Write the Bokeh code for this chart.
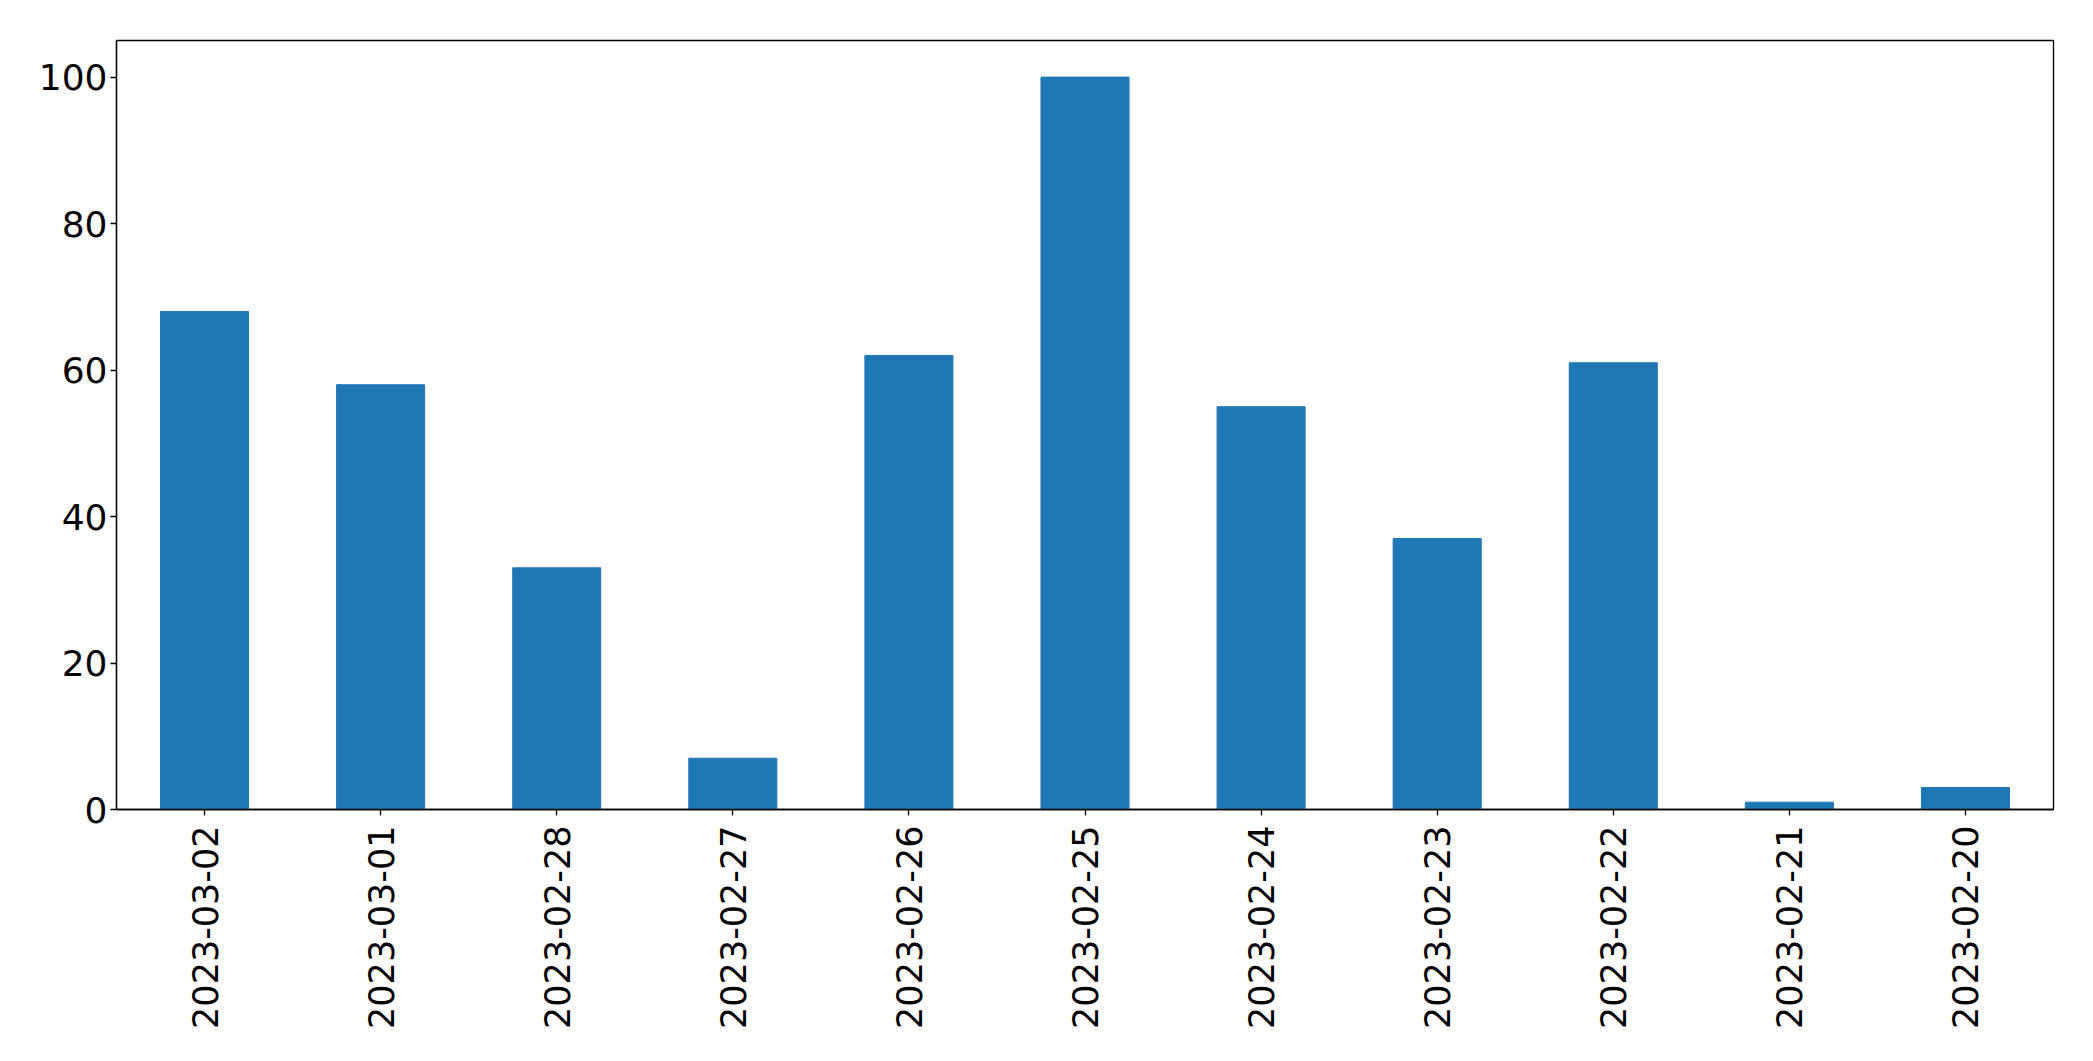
from bokeh.plotting import figure
from bokeh.models import FixedTicker, Range1d
from bokeh.embed import file_html
from bokeh.resources import INLINE
import math

dates = ["2023-03-02", "2023-03-01", "2023-02-28", "2023-02-27", "2023-02-26",
         "2023-02-25", "2023-02-24", "2023-02-23", "2023-02-22", "2023-02-21", "2023-02-20"]
counts = [68, 58, 33, 7, 62, 100, 55, 37, 61, 1, 3]
y_ticks = [0, 20, 40, 60, 80, 100]

p = figure(x_range=dates, y_range=Range1d(0, 105), width=2077, height=1045,
           output_backend="svg", toolbar_location=None,
           min_border_left=116, min_border_right=24, min_border_top=40, min_border_bottom=236)

p.vbar(x=dates, top=counts, width=0.5, color="#1f77b4")

p.xgrid.visible = False
p.ygrid.visible = False
p.x_range.range_padding = 0
p.outline_line_color = "black"
p.outline_line_width = 1.3
p.outline_line_alpha = 1

for ax in (p.xaxis, p.yaxis):
    ax.axis_line_color = "black"
    ax.axis_line_width = 1.3
    ax.major_tick_line_color = "black"
    ax.major_tick_line_width = 1.3
    ax.major_tick_out = 6
    ax.major_tick_in = 0
    ax.minor_tick_line_color = None
    ax.major_label_text_font = "DejaVu Sans"
    ax.major_label_text_color = "black"

p.yaxis.major_label_text_font_size = "36px"
p.xaxis.major_label_text_font_size = "35px"
p.yaxis.ticker = FixedTicker(ticks=y_ticks)
p.yaxis.major_label_standoff = 3
p.xaxis.major_label_orientation = math.pi / 2
p.xaxis.major_label_standoff = 10

open("out.html", "w").write(file_html(p, INLINE))
